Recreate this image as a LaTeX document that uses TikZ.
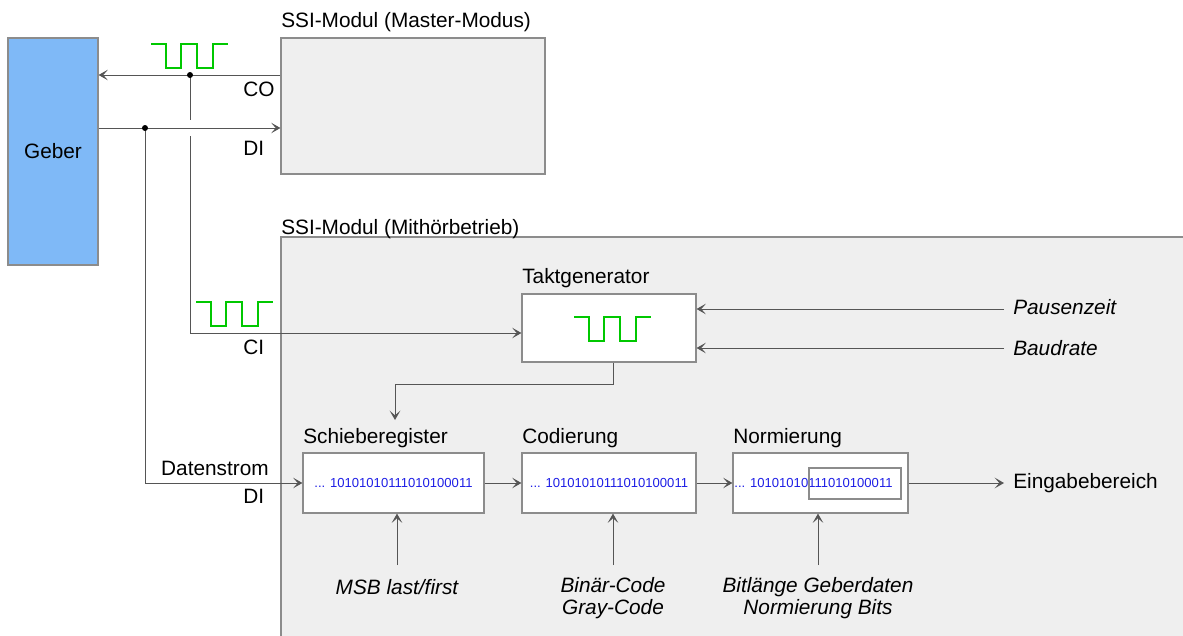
\documentclass[tikz,border=0pt]{standalone}
\usepackage{fontspec}
\setmainfont{Liberation Sans}
\usetikzlibrary{arrows.meta,calc}
\definecolor{geberblue}{HTML}{7FB9F7}
\definecolor{boxgray}{HTML}{EFEFEF}
\definecolor{bordergray}{HTML}{8C8C8C}
\definecolor{linegray}{HTML}{555555}
\definecolor{sigreen}{HTML}{00C800}
\definecolor{bitblue}{HTML}{1E1EE6}
\begin{document}
\begin{tikzpicture}[x=0.75pt,y=-0.75pt,
  lbl/.style={font=\fontsize{15.6}{18}\selectfont, inner sep=0pt, anchor=base west},
  ilbl/.style={font=\fontsize{15.6}{18}\selectfont\itshape, inner sep=0pt, anchor=base},
  blk/.style={draw=bordergray, fill=white, line width=0.9pt, rectangle,
    font=\fontsize{9.8}{12}\selectfont, text=bitblue, inner sep=0pt},
  bits/.style={font=\fontsize{9.8}{12}\selectfont, text=bitblue, inner sep=0pt},
  conn/.style={draw=linegray, line width=0.75pt},
  arr/.style={conn, -{Stealth[length=7pt,width=8pt,inset=3.5pt]}},
  sig/.style={draw=sigreen, line width=1.6pt},
  dot/.style={fill=black},
  clock/.pic={\draw[sig] (0,0) -- (15,0) -- (15,24) -- (30,24) -- (30,0) -- (46,0) -- (46,24) -- (62,24) -- (62,0) -- (77,0);}
]
\useasboundingbox (0,0) rectangle (1183,636);
\clip (0,0) rectangle (1183,636);

% big module boxes
\filldraw[fill=boxgray, draw=bordergray, line width=0.9pt] (281,237) rectangle (1200,660);
\node[draw=bordergray, fill=boxgray, line width=0.9pt, minimum width=198pt, minimum height=102pt, inner sep=0pt] (master) at (413,106) {};
\node[draw=bordergray, fill=geberblue, line width=0.9pt, minimum width=67.5pt, minimum height=170.25pt, inner sep=0pt, font=\fontsize{15.6}{18}\selectfont] (geber) at (53,151.5) {Geber};

\node[lbl] (t1) at (281,27) {SSI-Modul (Master-Modus)};
\node[lbl] (t2) at (281,234) {SSI-Modul (Mithörbetrieb)};

% inner blocks
\node[blk, minimum width=130.5pt, minimum height=51pt] (tg) at (609,328) {};
\node[blk, minimum width=135.75pt, minimum height=45pt] (sr) at (393.5,483) {... 10101010111010100011};
\node[blk, minimum width=130.5pt, minimum height=45pt] (cod) at (609,483) {... 10101010111010100011};
\node[blk, minimum width=131.25pt, minimum height=45pt] (norm) at (820.5,483) {};
\node[bits] (normtxt) at (813.5,483) {... 10101010111010100011};
\node[draw=bordergray, line width=0.9pt, minimum width=69pt, minimum height=23.25pt, inner sep=0pt] (sel) at (855,483.5) {};

\node[lbl] (ltg) at (522,283) {Taktgenerator};
\node[lbl] (lsr) at (303,443) {Schieberegister};
\node[lbl] (lcod) at (522,443) {Codierung};
\node[lbl] (lnorm) at (733,443) {Normierung};

% signals
\pic at (151,44) {clock};
\pic at (196,302) {clock};
\pic at (574,317) {clock};

% labels
\node[lbl] (co) at (243,96) {CO};
\node[lbl] (di1) at (243,155) {DI};
\node[lbl] (ci) at (243,354) {CI};
\node[lbl, anchor=base east] (ds) at (269,475) {Datenstrom};
\node[lbl] (di2) at (243,503) {DI};
\node[lbl, font=\fontsize{15.6}{18}\selectfont\itshape] (pz) at (1013,314) {Pausenzeit};
\node[lbl, font=\fontsize{15.6}{18}\selectfont\itshape] (br) at (1013,355) {Baudrate};
\node[lbl] (eb) at (1013,488) {Eingabebereich};
\node[ilbl] (msb) at (397,594) {MSB last/first};
\node[ilbl] (bc) at (613,592) {Binär-Code};
\node[ilbl] (gc) at (613,614) {Gray-Code};
\node[ilbl] (bl) at (818,592) {Bitlänge Geberdaten};
\node[ilbl] (nb) at (818,614) {Normierung Bits};

% coordinates
\coordinate (jco) at (190,75);
\coordinate (jdi) at (145,128);
\coordinate (gapT) at (190,120);
\coordinate (gapB) at (190,136);
\coordinate (cib) at (190,333);
\coordinate (dsb) at (145,483);
\coordinate (tgk) at (395,384);
\coordinate (srin) at (395,420);
\coordinate (pzs) at (1004,309);
\coordinate (brs) at (1004,348);
\coordinate (ebe) at (1004,483);
\coordinate (msbs) at (397,565);
\coordinate (bcs) at (613,565);
\coordinate (bls) at (818,565);

% connectors
\draw[arr] (master.west |- jco) -- (geber.east |- jco);
\draw[arr] (geber.east |- jdi) -- (master.west |- jdi);
\draw[conn] (jco) -- (gapT);
\draw[arr] (gapB) -- (cib) -- (tg.west |- cib);
\draw[arr] (jdi) -- (dsb) -- (sr.west |- dsb);
\draw[arr] ([xshift=3pt]tg.south) |- (tgk) -- (srin);
\draw[arr] (pzs) -- (tg.east |- pzs);
\draw[arr] (brs) -- (tg.east |- brs);
\draw[arr] (sr.east) -- (cod.west);
\draw[arr] (cod.east) -- (norm.west);
\draw[arr] (norm.east) -- (ebe);
\draw[arr] (msbs) -- (sr.south -| msbs);
\draw[arr] (bcs) -- (cod.south -| bcs);
\draw[arr] (bls) -- (norm.south -| bls);

\fill[dot] (jco) circle (3);
\fill[dot] (jdi) circle (3);
\end{tikzpicture}
\end{document}
